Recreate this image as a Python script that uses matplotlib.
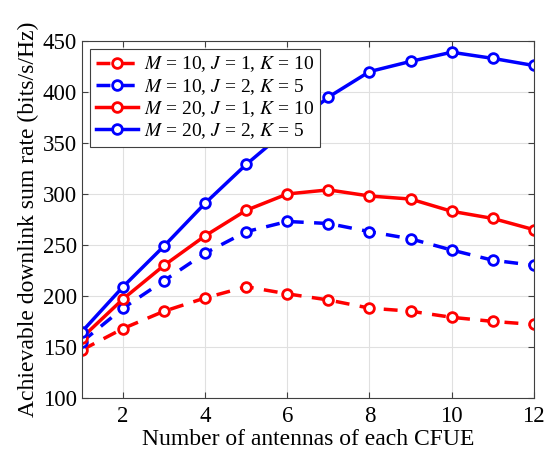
import matplotlib.pyplot as plt

plt.rcParams['font.family'] = ['Liberation Serif', 'DejaVu Serif']
plt.rcParams['mathtext.fontset'] = 'stix'

x = list(range(1, 13))
rate_m10_j1 = [147, 168, 185, 198, 209, 202, 196, 188, 185, 179, 175, 172]
rate_m10_j2 = [155, 188, 215, 242, 263, 273, 271, 263, 256, 245, 235, 230]
rate_m20_j1 = [159, 197, 230, 259, 284, 300, 304, 298, 295, 283, 276, 265]
rate_m20_j2 = [165, 209, 249, 291, 329, 363, 395, 420, 430, 439, 433, 426]

labels = [r'$M$ = 10, $J$ = 1, $K$ = 10',
          r'$M$ = 10, $J$ = 2, $K$ = 5',
          r'$M$ = 20, $J$ = 1, $K$ = 10',
          r'$M$ = 20, $J$ = 2, $K$ = 5']

fig = plt.figure(figsize=(5.56, 4.61), dpi=100)
ax = fig.add_axes([0.1475, 0.137, 0.8125, 0.774])

style = dict(marker='o', markersize=7, markerfacecolor='white', markeredgewidth=2, linewidth=2.5)
ax.plot(x, rate_m10_j1, '--', color='#ff0000', label=labels[0], dashes=(4, 3), **style)
ax.plot(x, rate_m10_j2, '--', color='#0000ff', label=labels[1], dashes=(4, 3), **style)
ax.plot(x, rate_m20_j1, '-', color='#ff0000', label=labels[2], **style)
ax.plot(x, rate_m20_j2, '-', color='#0000ff', label=labels[3], **style)

ax.set_xlim(1, 12)
ax.set_ylim(100, 450)
ax.set_xticks([2, 4, 6, 8, 10, 12])
ax.set_yticks(range(100, 451, 50))
ax.grid(True, color='#e0e0e0', linewidth=0.8)
ax.set_axisbelow(True)
ax.tick_params(direction='in', top=True, right=True, labelsize=16.5, length=4, color='#404040')
ax.tick_params(axis='x', pad=6)
for s in ax.spines.values():
    s.set_color('#404040')
    s.set_linewidth(0.8)

ax.set_xlabel('Number of antennas of each CFUE', fontsize=17, labelpad=1)
ax.set_ylabel('Achievable downlink sum rate (bits/s/Hz)', fontsize=17, labelpad=3)

leg = ax.legend(loc='upper left', fontsize=14, frameon=True, fancybox=False, framealpha=1,
                edgecolor='#404040', handlelength=2.2, borderpad=0.3, labelspacing=0.12,
                handletextpad=0.3, borderaxespad=0.4)
leg.get_frame().set_linewidth(0.8)

fig.savefig('out.png', dpi=100)
